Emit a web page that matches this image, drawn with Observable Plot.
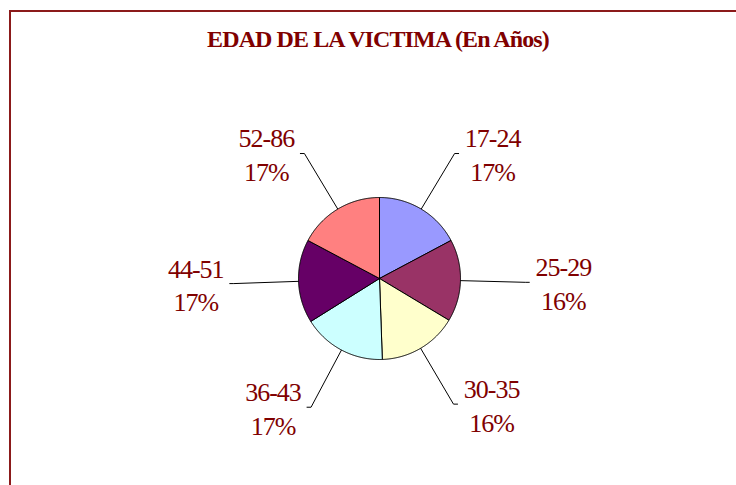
<!DOCTYPE html>
<html>
<head>
<meta charset="utf-8">
<script src="https://cdn.jsdelivr.net/npm/d3@7"></script>
<script src="https://cdn.jsdelivr.net/npm/@observablehq/plot@0.6"></script>
<style>
  html, body { margin: 0; padding: 0; background: #ffffff; }
  #wrap { position: relative; width: 736px; height: 485px; overflow: hidden; background: #fff; }
  #frame { position: absolute; left: 9px; top: 10px; width: 800px; height: 600px;
           border-left: 2px solid #8b1a1a; border-top: 2px solid #8b1a1a; }
  #title { position: absolute; left: 0; top: 27px; width: 756px; text-align: center;
           font-family: "Liberation Serif", "Times New Roman", serif; font-weight: bold;
           font-size: 24px; line-height: 24px; letter-spacing: -0.9px; color: #800000; }
  #chart { position: absolute; left: 0; top: 0; }
  #chart svg text { letter-spacing: -1px; }
</style>
</head>
<body>
<div id="wrap">
  <div id="frame"></div>
  <div id="title">EDAD DE LA VICTIMA (En Años)</div>
  <div id="chart"></div>
</div>
<script>
// ---- data ----
const categories = ["17-24", "25-29", "30-35", "36-43", "44-51", "52-86"];
const values = [62, 59, 57, 60, 60, 62];

// ---- styles / layout ----
const sliceColors = ["#9999FF", "#993366", "#FFFFCC", "#CCFFFF", "#660066", "#FF8080"];
const W = 736, H = 485;
const cx = 379, cy = 278, R = 81;     // pie centre and radius in pixels
const leaderR = 1.8;                   // leader elbow radius (pie radii)
const tail = 0.05;                     // short horizontal tail (pie radii)
const textGap = 0.42;                  // from tail end to label centre (pie radii)

const total = d3.sum(values);
const arcs = d3.pie().sort(null).value(d => d)(values);

// slice outlines
const slicePts = [];
arcs.forEach((a, i) => {
  const cat = categories[i];
  slicePts.push({cat, x: 0, y: 0});
  const n = Math.max(2, Math.ceil((a.endAngle - a.startAngle) / (Math.PI / 360)));
  for (let k = 0; k <= n; k++) {
    const t = a.startAngle + (a.endAngle - a.startAngle) * k / n;
    slicePts.push({cat, x: Math.sin(t), y: Math.cos(t)});
  }
  slicePts.push({cat, x: 0, y: 0});
});

// leader lines and labels
const leaderPts = [];
const labels = [];
arcs.forEach((a, i) => {
  const cat = categories[i];
  const m = (a.startAngle + a.endAngle) / 2;
  const sx = Math.sin(m), sy = Math.cos(m);
  const side = sx >= 0 ? 1 : -1;
  const ex = sx * leaderR, ey = sy * leaderR;
  leaderPts.push({cat, x: sx, y: sy});
  leaderPts.push({cat, x: ex, y: ey});
  leaderPts.push({cat, x: ex + side * tail, y: ey});
  labels.push({
    cat,
    x: ex + side * (tail + textGap),
    y: ey,
    text: `${cat}\n${Math.round(values[i] / total * 100)}%`
  });
});

const chart = Plot.plot({
  width: W,
  height: H,
  margin: 0,
  x: {domain: [-cx / R, (W - cx) / R], axis: null},
  y: {domain: [-(H - cy) / R, cy / R], axis: null},
  color: {domain: categories, range: sliceColors},
  style: {background: "transparent", overflow: "visible"},
  marks: [
    Plot.line(leaderPts, {x: "x", y: "y", z: "cat", stroke: "#000", strokeWidth: 1}),
    Plot.line(slicePts, {x: "x", y: "y", z: "cat", fill: "cat", stroke: "#000", strokeWidth: 1, strokeLinejoin: "round"}),
    Plot.text(labels, {
      x: "x", y: "y", text: "text",
      textAnchor: "middle", lineHeight: 1.29,
      fontFamily: "Liberation Serif, Times New Roman, serif",
      fontSize: 26, fill: "#800000"
    })
  ]
});
document.getElementById("chart").appendChild(chart);
</script>
</body>
</html>
